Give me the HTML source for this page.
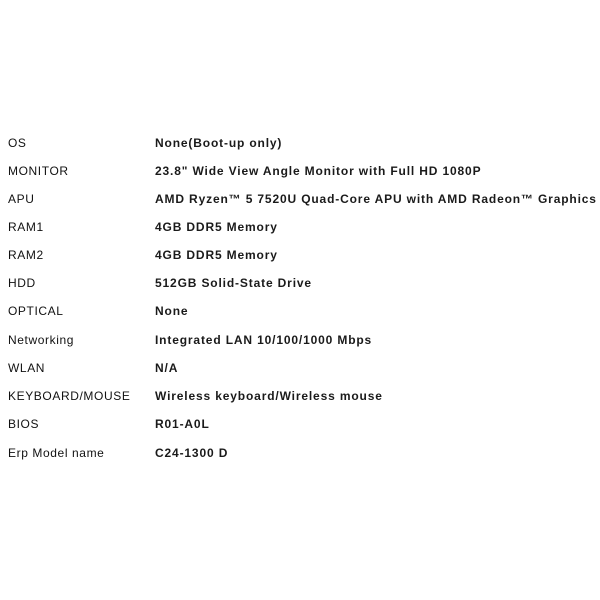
<!DOCTYPE html>
<html><head><meta charset="utf-8"><style>
body{margin:0;width:600px;height:600px;background:#fff;position:relative;font-family:"Liberation Sans",sans-serif;color:#111;}
.r{position:absolute;left:0;width:600px;height:20px;font-size:12px;line-height:20px;white-space:nowrap;}
.k{position:absolute;left:8px;letter-spacing:0.6px;}
.v{position:absolute;left:155px;font-weight:bold;letter-spacing:0.85px;color:#1a1a1a;}
</style></head><body>
<div class="r" style="top:133px"><span class="k">OS</span><span class="v">None(Boot-up only)</span></div>
<div class="r" style="top:161px"><span class="k">MONITOR</span><span class="v">23.8" Wide View Angle Monitor with Full HD 1080P</span></div>
<div class="r" style="top:189px"><span class="k">APU</span><span class="v">AMD Ryzen™ 5 7520U Quad-Core APU with AMD Radeon™ Graphics</span></div>
<div class="r" style="top:217px"><span class="k">RAM1</span><span class="v">4GB DDR5 Memory</span></div>
<div class="r" style="top:245px"><span class="k">RAM2</span><span class="v">4GB DDR5 Memory</span></div>
<div class="r" style="top:273px"><span class="k">HDD</span><span class="v">512GB Solid-State Drive</span></div>
<div class="r" style="top:301px"><span class="k">OPTICAL</span><span class="v">None</span></div>
<div class="r" style="top:330px"><span class="k">Networking</span><span class="v">Integrated LAN 10/100/1000 Mbps</span></div>
<div class="r" style="top:358px"><span class="k">WLAN</span><span class="v">N/A</span></div>
<div class="r" style="top:386px"><span class="k">KEYBOARD/MOUSE</span><span class="v">Wireless keyboard/Wireless mouse</span></div>
<div class="r" style="top:414px"><span class="k">BIOS</span><span class="v">R01-A0L</span></div>
<div class="r" style="top:443px"><span class="k">Erp Model name</span><span class="v">C24-1300 D</span></div>
</body></html>
